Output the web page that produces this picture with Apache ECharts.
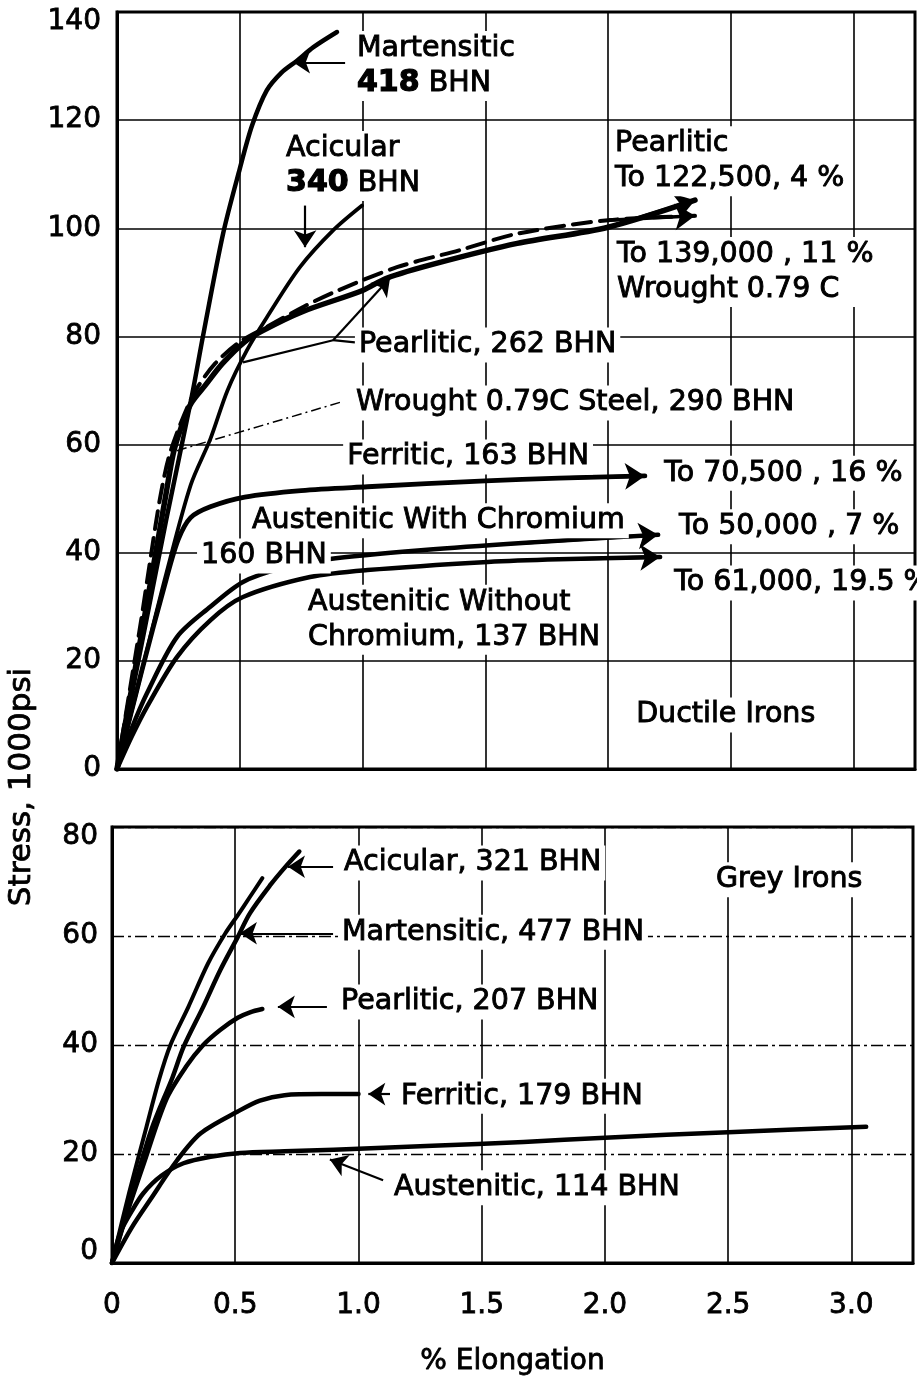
<!DOCTYPE html>
<html><head><meta charset="utf-8">
<script src="https://cdn.jsdelivr.net/npm/echarts@6/dist/echarts.min.js"></script>
<style>html,body{margin:0;padding:0;background:#fff}#c{width:917px;height:1380px}</style>
</head><body><div id="c"></div>
<script>
// ---------- tick labels ----------
const xTickLabels = ['0', '0.5', '1.0', '1.5', '2.0', '2.5', '3.0'];
const yTopMax = 140, yBotMax = 80;

// ---------- Ductile irons (top panel) : [% elongation, stress 1000 psi] ----------
const ductMartensitic = [[0,0],[0.1,23],[0.2,46],[0.305,69],[0.35,80],[0.432,99],[0.5,111],[0.55,119],[0.61,125.5],[0.67,128.8],[0.733,131],[0.8,133.5],[0.896,136.3]];
const ductAcicular = [[0,0],[0.1,18],[0.2,36],[0.3,52.5],[0.38,61],[0.45,70],[0.53,77.5],[0.61,83.5],[0.745,92.8],[0.88,99.6],[0.998,104.2]];
const ductPearlitic = [[0,0],[0.1,25],[0.2,51],[0.23,58.5],[0.26,63],[0.3,67.5],[0.36,71],[0.43,75],[0.52,79],[0.59,81],[0.75,84.5],[1.0,88.5],[1.1,90.8],[1.3,93.5],[1.63,97.2],[2.0,100.2],[2.354,105.2]];
const ductWrought = [[0,0],[0.05,14],[0.1,28],[0.14,40],[0.175,50],[0.21,57.5],[0.26,64],[0.32,70],[0.4,75],[0.5,79],[0.62,82],[0.76,85.5],[0.9,88.5],[1.14,92.8],[1.4,96],[1.63,99],[2.0,101.5],[2.354,102.3]];
const ductFerritic = [[0,0],[0.1,18],[0.2,35],[0.25,42.5],[0.3,46.5],[0.38,48.5],[0.52,50.3],[0.75,51.5],[1.02,52.2],[1.5,53.3],[1.8,53.8],[2.15,54.2]];
const ductAustCr = [[0,0],[0.06,7.5],[0.122,14],[0.244,24.4],[0.38,30],[0.513,34.6],[0.676,37.2],[0.86,38.8],[1.25,40.5],[1.65,41.8],[2.204,43.3]];
const ductAustNoCr = [[0,0],[0.06,6],[0.122,11.5],[0.244,20.7],[0.38,27.5],[0.513,31.8],[0.786,35.5],[1.02,36.8],[1.51,38.3],[1.8,38.8],[2.212,39.2]];

// ---------- Grey irons (bottom panel) ----------
const greyAcicular = [[0,0],[0.08,12.5],[0.16,24.5],[0.245,34],[0.29,39.6],[0.37,47],[0.44,53.8],[0.51,59.8],[0.56,64.2],[0.645,69.5],[0.7,72.5],[0.76,75.5]];
const greyMartensitic = [[0,0],[0.07,13],[0.14,25],[0.19,33.5],[0.237,40],[0.31,47],[0.39,55],[0.46,60.5],[0.51,63.8],[0.56,67.2],[0.61,70.6]];
const greyPearlitic = [[0,0],[0.06,9],[0.127,18],[0.22,30],[0.3,36],[0.37,40],[0.44,42.8],[0.51,45],[0.56,46],[0.61,46.6]];
const greyFerritic = [[0,0],[0.08,6.5],[0.155,11.6],[0.265,18.9],[0.36,23.8],[0.51,27.8],[0.6,29.8],[0.7,30.8],[0.85,31],[1.0,31]];
const greyAustenitic = [[0,0],[0.033,5.5],[0.08,9.5],[0.127,12.8],[0.2,16],[0.29,18.3],[0.4,19.5],[0.52,20.2],[0.7,20.5],[0.9,20.8],[1.3,21.5],[1.67,22.2],[2.0,23],[2.5,24],[3.06,25]];

// ---------- annotations (text anchored at left-middle, data coords) ----------
const topNotes = [
  {t: 'Martensitic\n{b|418} BHN', x: 0.961, y: 130},
  {t: 'Acicular\n{b|340} BHN', x: 0.672, y: 111.5},
  {t: 'Pearlitic\nTo 122,500, 4 %', x: 2.012, y: 112.4},
  {t: 'To 139,000 , 11 %\nWrought 0.79 C', x: 2.02, y: 91.9},
  {t: 'Pearlitic, 262 BHN', x: 0.969, y: 78.4},
  {t: 'Wrought 0.79C Steel, 290 BHN', x: 0.957, y: 67.7},
  {t: 'Ferritic, 163 BHN', x: 0.921, y: 57.7},
  {t: 'Austenitic With Chromium', x: 0.534, y: 45.9},
  {t: '160 BHN', x: 0.326, y: 39.4},
  {t: 'Austenitic Without\nChromium, 137 BHN', x: 0.762, y: 27.6},
  {t: 'To 70,500 , 16 %', x: 2.212, y: 54.7},
  {t: 'To 50,000 , 7 %', x: 2.273, y: 44.8},
  {t: 'To 61,000, 19.5 %', x: 2.253, y: 34.4},
  {t: 'Ductile Irons', x: 2.098, y: 10}
];
const botNotes = [
  {t: 'Acicular, 321 BHN', x: 0.925, y: 73.4},
  {t: 'Martensitic, 477 BHN', x: 0.917, y: 60.7},
  {t: 'Pearlitic, 207 BHN', x: 0.913, y: 47.9},
  {t: 'Ferritic, 179 BHN', x: 1.156, y: 30.6},
  {t: 'Austenitic, 114 BHN', x: 1.128, y: 13.8},
  {t: 'Grey Irons', x: 2.434, y: 70.3}
];
// leader lines (from label toward curve)
const topArrowLeaders = [[[0.929,130.7],[0.717,130.7]], [[0.766,104.2],[0.766,96.5]], [[0.88,79.3],[1.112,90.8]]];
const topPlainLeaders = [[[0.969,78.9],[0.88,79.3]], [[0.88,79.3],[0.513,75.2]]];
const topDashLeaders = [[[0.908,67.8],[0.224,58.6]]];
const botArrowLeaders = [[[0.897,72.7],[0.714,72.7]], [[0.897,60.5],[0.519,60.5]], [[0.872,47],[0.673,47]], [[1.128,31],[1.04,31]], [[1.10,15.2],[0.884,19]]];

// ---------- build ----------
const FONT = '"DejaVu Sans", sans-serif';
const INK = '#000000';
const chart = echarts.init(document.getElementById('c'), null, {renderer: 'canvas'});

function curve(data, gi, width, dashed) {
  return {type: 'line', xAxisIndex: gi, yAxisIndex: gi, data: data, showSymbol: false, symbol: 'none',
    smooth: 0.3, silent: true, z: 3,
    lineStyle: {color: INK, width: width, type: dashed ? [18, 9] : 'solid', cap: 'round', join: 'round'}};
}
function endArrow(data) {
  const n = data.length;
  return {coords: [data[n - 2], data[n - 1]]};
}
function linesSeries(gi, items, opts) {
  return Object.assign({type: 'lines', coordinateSystem: 'cartesian2d', xAxisIndex: gi, yAxisIndex: gi,
    silent: true, z: 4, data: items.map(c => ({coords: c.coords || c})),
    symbol: ['none', 'arrow'], symbolSize: [10, 17],
    lineStyle: {color: INK, width: 2.2, curveness: 0, opacity: 1}}, opts || {});
}
const txt = {color: INK, fontFamily: FONT, textBorderColor: INK, textBorderWidth: 0.9};
function notes(gi, list) {
  return {type: 'scatter', xAxisIndex: gi, yAxisIndex: gi, symbolSize: 0, silent: true, z: 6,
    itemStyle: {color: INK},
    data: list.map(n => ({name: n.t, value: [n.x, n.y]})),
    label: Object.assign({show: true, position: 'right', distance: 0, fontSize: 28.5, opacity: 1,
      lineHeight: 35, backgroundColor: '#fff', padding: [0, 4],
      formatter: p => p.name,
      rich: {b: Object.assign({fontWeight: 'bold', fontSize: 30, lineHeight: 35}, txt, {textBorderWidth: 1.2})}}, txt)};
}
function xAxisCfg(gi, showLabels) {
  return {gridIndex: gi, type: 'value', min: 0, max: 3.25, interval: 0.5,
    axisTick: {show: false}, axisLine: {onZero: false, lineStyle: {color: INK, width: 3}},
    splitLine: {show: true, lineStyle: {color: INK, width: 1.6}},
    axisLabel: Object.assign({show: showLabels, fontSize: 28, margin: 29,
      formatter: v => { const i = Math.round(v / 0.5); return (Math.abs(v - i * 0.5) < 1e-6 && xTickLabels[i]) ? xTickLabels[i] : ''; }}, txt, {textBorderWidth: 0.8}),
    name: showLabels ? '% Elongation' : '', nameLocation: 'middle', nameGap: 85,
    nameTextStyle: Object.assign({fontSize: 28}, txt, {textBorderWidth: 0.8})};
}
function yAxisCfg(gi, max, dashed, margin) {
  const rt = Object.assign({fontSize: 28}, txt, {textBorderWidth: 0.8});
  return {gridIndex: gi, type: 'value', min: 0, max: max, interval: 20,
    axisTick: {show: false}, axisLine: {lineStyle: {color: INK, width: 3}},
    splitLine: {show: true, lineStyle: {color: INK, width: dashed ? 1.3 : 1.6, type: dashed ? [12, 4, 3, 4] : 'solid'}},
    axisLabel: Object.assign({fontSize: 28, margin: margin,
      formatter: v => v === max ? '{t|' + v + '}' : (v === 0 && gi === 1 ? '{z|0}' : String(v)),
      rich: {t: Object.assign({padding: [20, 0, 0, 0]}, rt), z: Object.assign({padding: [0, 0, 22, 0]}, rt)}}, txt, {textBorderWidth: 0.8})};
}

const option = {
  animation: false,
  backgroundColor: '#fff',
  grid: [
    {left: 117, top: 12, width: 798, height: 757, show: true, borderColor: INK, borderWidth: 3, backgroundColor: 'transparent'},
    {left: 112, top: 827, width: 801, height: 436, show: true, borderColor: INK, borderWidth: 3, backgroundColor: 'transparent'}
  ],
  xAxis: [xAxisCfg(0, false), xAxisCfg(1, true)],
  yAxis: [yAxisCfg(0, yTopMax, false, 16), yAxisCfg(1, yBotMax, true, 14)],
  graphic: [{type: 'text', x: 22, y: 787, rotation: Math.PI / 2, z: 10,
    style: {text: 'Stress, 1000psi', fontSize: 31, fontFamily: FONT, fill: INK, stroke: INK, lineWidth: 0.8, align: 'center', verticalAlign: 'middle'}}],
  series: [
    curve(ductMartensitic, 0, 4.5),
    curve(ductAcicular, 0, 3.8),
    curve(ductPearlitic, 0, 5.5),
    curve(ductWrought, 0, 4, true),
    curve(ductFerritic, 0, 4.8),
    curve(ductAustCr, 0, 4.5),
    curve(ductAustNoCr, 0, 4.5),
    curve(greyAcicular, 1, 4.5),
    curve(greyMartensitic, 1, 4),
    curve(greyPearlitic, 1, 4.5),
    curve(greyFerritic, 1, 4.5),
    curve(greyAustenitic, 1, 4.5),
    linesSeries(0, [endArrow(ductPearlitic), endArrow(ductWrought), endArrow(ductFerritic), endArrow(ductAustCr), endArrow(ductAustNoCr)],
      {lineStyle: {color: INK, width: 3.5, curveness: 0, opacity: 1}, symbolSize: [12, 20]}),
    linesSeries(0, topArrowLeaders),
    linesSeries(0, topPlainLeaders, {symbol: ['none', 'none']}),
    linesSeries(0, topDashLeaders, {symbol: ['none', 'none'], lineStyle: {color: INK, width: 1.5, type: [10, 4, 2, 4], curveness: 0, opacity: 1}}),
    linesSeries(1, botArrowLeaders),
    notes(0, topNotes),
    notes(1, botNotes)
  ]
};
chart.setOption(option);
</script>
</body></html>
